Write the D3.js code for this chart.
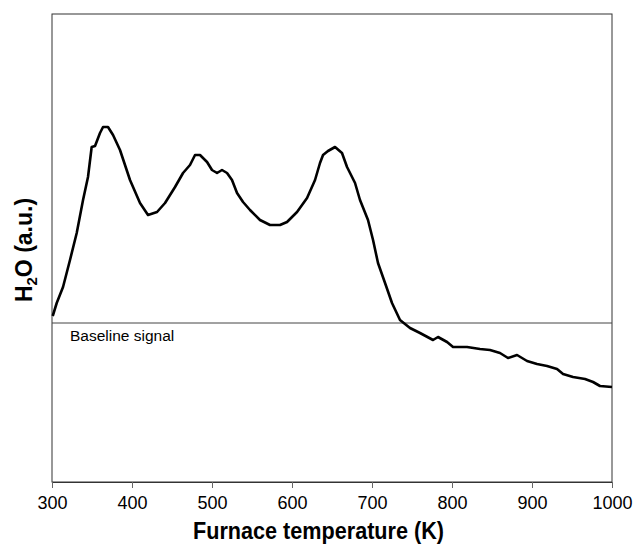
<!DOCTYPE html>
<html><head><meta charset="utf-8">
<script src="https://cdn.jsdelivr.net/npm/d3@7"></script>
<style>body{margin:0;background:#fff}svg{display:block;font-family:"Liberation Sans",Arial,sans-serif}</style>
</head><body>
<script>
const temperature = [300.9,305.9,313.8,322.5,330.9,338.8,345,349.6,353.8,360,363.8,370,376.3,385,397.5,410,420,431.3,441.3,453.8,463.8,472.5,478.8,485,493.8,500,506.3,512.5,518.8,525,531.3,538.8,547.5,560,572.5,585,593.8,606.3,618.8,628.8,635,638.8,645,653.8,662.5,668.8,678.8,685,695,701.3,707.5,716.3,725,735,747.5,760,776.3,782.5,793.8,801.3,818.8,835,847.5,860,870,881.3,893.8,906.3,918.8,931.3,938.8,951.3,966.3,976.3,985,1000];
const signal = [0.07,0.20,0.36,0.63,0.90,1.23,1.46,1.76,1.77,1.90,1.96,1.96,1.88,1.73,1.43,1.20,1.08,1.11,1.20,1.36,1.50,1.58,1.68,1.68,1.61,1.53,1.50,1.53,1.50,1.43,1.30,1.21,1.13,1.03,0.98,0.98,1.01,1.11,1.25,1.43,1.60,1.68,1.72,1.76,1.70,1.56,1.40,1.23,1.03,0.83,0.60,0.40,0.20,0.03,-0.05,-0.10,-0.17,-0.14,-0.19,-0.24,-0.24,-0.26,-0.27,-0.30,-0.35,-0.32,-0.38,-0.41,-0.43,-0.46,-0.51,-0.54,-0.56,-0.59,-0.63,-0.64];
const xTicks = [300,400,500,600,700,800,900,1000];
const baselineValue = 0;

const W = 633, H = 546;
const m = {left:52, right:21, top:14, bottom:64};
const svg = d3.select("body").append("svg").attr("width", W).attr("height", H);
const x = d3.scaleLinear().domain([300,1000]).range([m.left, W - m.right]);
const y = d3.scaleLinear().domain([-1.59,3.09]).range([H - m.bottom, m.top]);

// frame
svg.append("rect").attr("x", m.left).attr("y", m.top)
  .attr("width", W - m.right - m.left).attr("height", H - m.bottom - m.top)
  .attr("fill","none").attr("stroke","#333").attr("stroke-width",1);

// x axis
const xa = svg.append("g").attr("transform",`translate(0,${H - m.bottom})`)
  .call(d3.axisBottom(x).tickValues(xTicks).tickSize(6).tickPadding(8).tickFormat(d3.format("d")));
xa.select(".domain").attr("stroke","#333");
xa.selectAll(".tick line").attr("stroke","#666");
xa.selectAll("text").attr("font-size",18).attr("fill","#000").attr("font-family","Liberation Sans, Arial, sans-serif");

// baseline
svg.append("line").attr("x1", m.left).attr("x2", W - m.right)
  .attr("y1", y(baselineValue)).attr("y2", y(baselineValue))
  .attr("stroke","#444").attr("stroke-width",1);
svg.append("text").attr("x", 70).attr("y", y(baselineValue) + 18)
  .attr("font-size",15.5).text("Baseline signal");

// curve
const data = temperature.map((t,i)=>({t, v: signal[i]}));
svg.append("path").datum(data)
  .attr("d", d3.line().x(d=>x(d.t)).y(d=>y(d.v)))
  .attr("fill","none").attr("stroke","#000").attr("stroke-width",2.6).attr("stroke-linejoin","round");

// titles
svg.append("text").attr("x", 193).attr("y", 539)
  .attr("font-size",23).attr("font-weight","bold")
  .attr("textLength",251).attr("lengthAdjust","spacingAndGlyphs")
  .text("Furnace temperature (K)");
const yl = svg.append("text").attr("transform",`translate(32,250) rotate(-90)`)
  .attr("text-anchor","middle").attr("font-size",23).attr("font-weight","bold");
yl.append("tspan").text("H");
yl.append("tspan").attr("font-size",15).attr("dy",5).text("2");
yl.append("tspan").attr("dy",-5).text("O (a.u.)");
</script>
</body></html>
